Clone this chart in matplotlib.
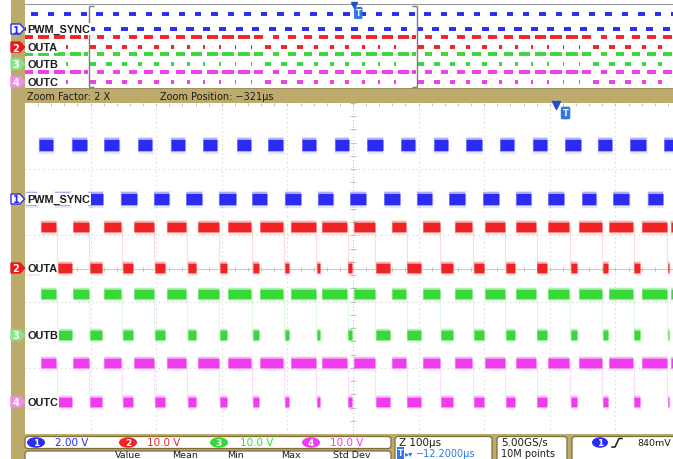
import numpy as np
import matplotlib.pyplot as plt
from matplotlib.patches import Rectangle, FancyBboxPatch, Polygon, Ellipse

W, H = 673, 460
DPI = 100
TAN = '#bcab6c'
INK = '#1c1c1c'

# ---- values ----
names = ['PWM_SYNC', 'OUTA', 'OUTB', 'OUTC']
scales = ['2.00 V', '10.0 V', '10.0 V', '10.0 V']
zoom_factor = '2 X'
zoom_position = '\u2212321\u00b5s'
zoom_scale = 'Z 100\u00b5s'
horiz_pos = '\u221212.2000\u00b5s'
sample_rate = '5.00GS/s'
record_len = '10M points'
trig_level = '840mV'
meas_cols = ['Value', 'Mean', 'Min', 'Max', 'Std Dev']
trigger_t = 321.0      # trigger, µs from zoom-window centre
expansion_t = 308.8    # small triangle marker (trigger - 12.2 µs)

# edge times (µs, relative to the centre of the zoom window)
sync_rise = [-480, -430, -380, -329, -279, -229, -178, -130, -79, -29,
             21, 72, 122, 172, 223, 273, 322, 372, 422, 473]
sync_fall = [-456, -405, -355, -305, -255, -206, -155, -105, -55, -5,
             46, 96, 146, 197, 247, 297, 348, 396, 448, 497]
# OUTA, OUTB and OUTC switch together in this capture
outa_rise = [-477, -428, -381, -335, -285, -238, -191, -143, -96, -49,
             0, 58, 105, 154, 200, 248, 296, 343, 390, 439, 483]
outa_fall = [-451, -402, -352, -303, -253, -204, -154, -105, -56, -8,
             34, 82, 133, 183, 232, 280, 331, 380, 428, 479]
outb_rise, outb_fall = outa_rise, outa_fall
outc_rise, outc_fall = outa_rise, outa_fall

# ---- styling / layout (screen pixels) ----
colors = ['#2b2bf2', '#f02424', '#38d838', '#ee3cee']
flag_fill = ['white', '#e8181c', '#8ae48a', '#f08cf0']
main_hi = [146, 228, 295, 364]
main_lo = [200, 269, 336, 403]
ov_hi = [15, 38, 55, 73]
ov_lo = [30, 48, 65, 83]
edges = [(sync_rise, sync_fall), (outa_rise, outa_fall),
         (outb_rise, outb_fall), (outc_rise, outc_fall)]


def segments(rise, fall, t0, t1):
    ev = sorted([(t, 1) for t in rise] + [(t, 0) for t in fall])
    state = 1 - ev[0][1]
    hi, lo = [], []
    t = t0
    for te, s in ev:
        (hi if state else lo).append((t, te))
        t, state = te, s
    (hi if state else lo).append((t, t1))
    return hi, lo


def draw_band(ax, segs, y, color, lw, halo, trim):
    segs = [s for s in segs if s[1] - s[0] > 2 * trim + 0.5]
    if not segs:
        return
    a = [s[0] + trim for s in segs]
    b = [s[1] - trim for s in segs]
    if halo:
        # soft persistence fringe around each blob
        ax.hlines([y] * len(a), [v - 0.5 for v in a], [v + 0.5 for v in b],
                  color=color, lw=lw * 1.55, alpha=0.12, zorder=3)
        ax.hlines([y] * len(a), a, b, color=color, lw=lw * 1.25, alpha=0.3, zorder=3)
    ax.hlines([y] * len(a), a, b, color=color, lw=lw, zorder=4)


fig = plt.figure(figsize=(W / DPI, H / DPI), dpi=DPI, facecolor=TAN)

bg = fig.add_axes([0, 0, 1, 1], zorder=0)
bg.set_xlim(0, W)
bg.set_ylim(H, 0)
bg.axis('off')
bg.add_patch(Rectangle((0, 0), 11, H, fc='white', ec='none'))

# ---- overview (full record) ----
ovw = fig.add_axes([25 / W, 1 - 90 / H, 656 / W, 90 / H], zorder=1)
ovw.set_xlim(-695, 1305)
ovw.set_ylim(90, 0)
ovw.set_xticks([])
ovw.set_yticks([])
for s in ovw.spines.values():
    s.set_visible(False)
ovw.axhline(5, color='#9a9a9a', lw=0.8)
ovw.axhline(89.5, color='#8a7a40', lw=1.2)

# ---- zoom window ----
ax = fig.add_axes([25 / W, 1 - 435 / H, 656 / W, 331 / H], zorder=1)
ax.set_xlim(-500, 500)
ax.set_ylim(435, 104)
ax.set_xticks([])
ax.set_yticks([])
for s in ax.spines.values():
    s.set_visible(False)

grid_kw = dict(color='#d2d2d2', lw=0.8, ls=(0, (1, 3)), zorder=1)
for t in [-400, -300, -200, -100, 100, 200, 300, 400]:
    ax.axvline(t, **grid_kw)
for y in [170, 236, 303, 369]:
    ax.axhline(y, **grid_kw)
ax.axvline(0, color='#c8c8c8', lw=0.8, ls=(0, (1, 2)), zorder=1)
ax.axhline(269.5, color='#cccccc', lw=0.8, zorder=1)
minor_t = np.arange(-480, 500, 20)
ax.vlines(minor_t, 267.5, 271.5, color='#c0c0c0', lw=0.7, zorder=1)
ax.vlines(minor_t, 104, 107, color='#c0c0c0', lw=0.7, zorder=1)
minor_y = np.linspace(104, 435, 26)
ax.hlines(minor_y, -4, 4, color='#c0c0c0', lw=0.7, zorder=1)

for i in range(4):
    rise, fall = edges[i]
    hi, lo = segments(rise, fall, -500, 500)
    lw_main = 8.0 if i == 0 else 6.8
    draw_band(ax, hi, main_hi[i], colors[i], lw_main, True, 1.0)
    draw_band(ax, lo, main_lo[i], colors[i], lw_main, True, 1.0)
    if i > 0:
        ax.vlines(list(fall), main_hi[i], main_lo[i], color=colors[i],
                  lw=0.8, alpha=0.16, zorder=2)
    # overview repeats the same record on both sides of the zoom box
    ohi = [(a + k, b + k) for k in (-1000, 0, 1000) for a, b in hi]
    olo = [(a + k, b + k) for k in (-1000, 0, 1000) for a, b in lo]
    draw_band(ovw, ohi, ov_hi[i], colors[i], 2.8, False, 2.0)
    draw_band(ovw, olo, ov_lo[i], colors[i], 2.8, False, 2.0)

# zoom bracket on the overview
br = '#7a7a7a'
ovw.vlines([-500, 500], 7, 88, color=br, lw=1.0, zorder=6)
ovw.hlines([7, 88], -500, -485, color=br, lw=1.0, zorder=6)
ovw.hlines([7, 88], 485, 500, color=br, lw=1.0, zorder=6)

# trigger markers
T_BLUE = '#2f78e6'
ovw.plot([expansion_t], [5.5], marker='v', ms=5, color='#1e4fd0', zorder=7, clip_on=False)
ovw.text(trigger_t, 14, 'T', color='white', fontsize=5.5, fontweight='bold',
         ha='center', va='center', zorder=8,
         bbox=dict(boxstyle='round,pad=0.2', fc=T_BLUE, ec='none'))
ax.plot([expansion_t], [105.5], marker='v', ms=6, color='#1e4fd0', zorder=7, clip_on=False)
ax.text(trigger_t + 3, 114, 'T', color='white', fontsize=6, fontweight='bold',
        ha='center', va='center', zorder=8,
        bbox=dict(boxstyle='round,pad=0.22', fc=T_BLUE, ec='none'))

# ---- channel labels and flags ----
ov = fig.add_axes([0, 0, 1, 1], zorder=5)
ov.set_xlim(0, W)
ov.set_ylim(H, 0)
ov.axis('off')

lab_font = dict(family='Liberation Sans', fontweight='bold', fontsize=7.8, color=INK)
for rows in (ov_lo, main_lo):
    for i, name in enumerate(names):
        y = rows[i]
        ov.text(27, y, name, ha='left', va='center', **lab_font,
                bbox=dict(boxstyle='square,pad=0.12', fc='white', ec='none'))
        ov.add_patch(Polygon([(11, y - 5), (20, y - 5), (24.5, y), (20, y + 5), (11, y + 5)],
                             closed=True, fc=flag_fill[i],
                             ec=colors[0] if i == 0 else flag_fill[i], lw=1.0))
        ov.text(16, y + 0.5, str(i + 1), ha='center', va='center', fontsize=7,
                fontweight='bold', color=colors[0] if i == 0 else 'white')

# ---- zoom info band ----
band_font = dict(family='DejaVu Sans', fontsize=7, color=INK, va='center')
bg.text(27, 97.5, 'Zoom Factor: ' + zoom_factor, ha='left', **band_font)
bg.text(160, 97.5, 'Zoom Position: ' + zoom_position, ha='left', **band_font)


# ---- bottom readouts ----
def rbox(x0, y0, x1, y1):
    bg.add_patch(FancyBboxPatch((x0, y0), x1 - x0, y1 - y0,
                                boxstyle='round,pad=0,rounding_size=3',
                                fc='white', ec='#7d6e3a', lw=0.9))


rbox(25, 437.5, 391, 449.5)
rbox(25, 452, 391, 480)
rbox(395, 437.5, 492, 480)
rbox(497, 437.5, 567, 480)
rbox(572, 437.5, 700, 480)

ro_font = dict(family='DejaVu Sans', fontsize=7.5, va='center')
ro2_font = dict(family='DejaVu Sans', fontsize=7, va='center')
badge_x = [36, 128, 219, 311]
value_x = [55, 147, 240, 330]
for i in range(4):
    bg.add_patch(Ellipse((badge_x[i], 443.5), 18, 10.5, fc=colors[i], ec='none'))
    bg.text(badge_x[i], 443.8, str(i + 1), ha='center', color='white',
            fontsize=6.5, fontweight='bold', va='center')
    bg.text(value_x[i], 443.5, scales[i], ha='left', color=colors[i], **ro_font)

col_x = [115, 172, 227, 281, 333]
for x, c in zip(col_x, meas_cols):
    bg.text(x, 459.8, c, ha='left', va='bottom', family='DejaVu Sans',
            fontsize=6.8, color=INK)

bg.text(399, 443.5, zoom_scale, ha='left', color=INK, **ro_font)
bg.text(400.5, 454, 'T', ha='center', va='center', color='white', fontsize=5.5,
        fontweight='bold', bbox=dict(boxstyle='square,pad=0.15', fc=T_BLUE, ec='none'))
bg.text(405, 454, '\u25b8\u25be', ha='left', color=T_BLUE, family='DejaVu Sans',
        fontsize=6, va='center')
bg.text(416, 454, horiz_pos, ha='left', color=T_BLUE, **ro2_font)

bg.text(501, 443.5, sample_rate, ha='left', color=INK, **ro_font)
bg.text(501, 454, record_len, ha='left', color=INK, **ro2_font)

bg.add_patch(Ellipse((600, 443.5), 16, 10.5, fc=colors[0], ec='none'))
bg.text(600, 443.8, '1', ha='center', color='white', fontsize=6.5,
        fontweight='bold', va='center')
bg.plot([612, 615, 619, 622], [448, 448, 439.5, 439.5], color=INK, lw=1.1)
bg.text(637, 443.5, trig_level, ha='left', color=INK, family='DejaVu Sans',
        fontsize=6.8, va='center')

fig.savefig('out.png', dpi=DPI, facecolor=TAN)
